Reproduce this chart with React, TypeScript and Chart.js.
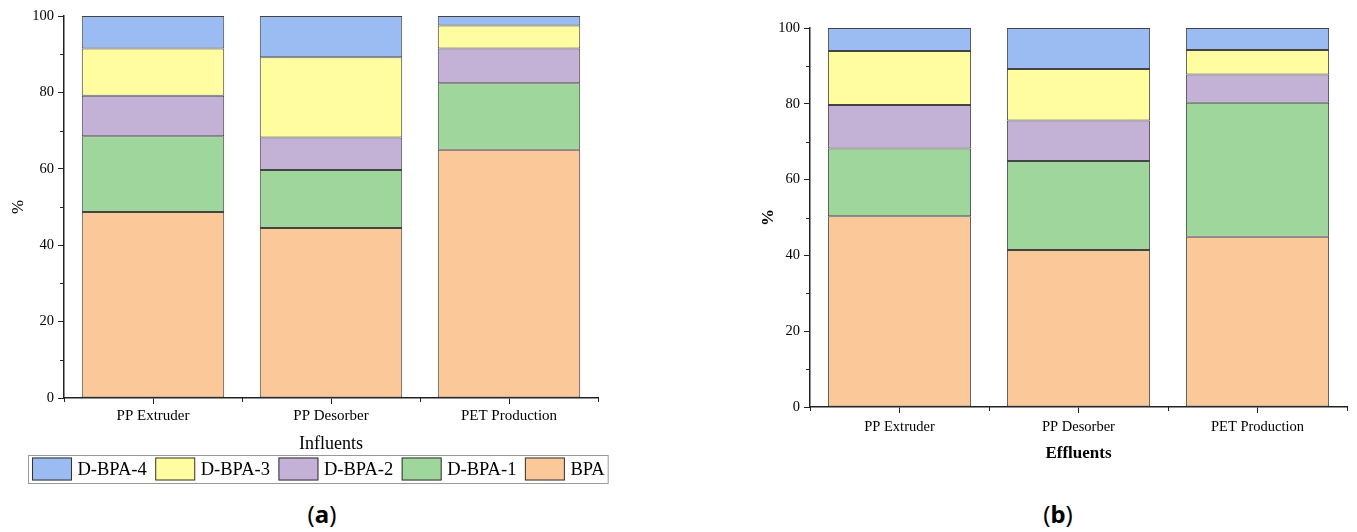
import React, { useEffect, useRef } from 'react';
import { Chart, registerables } from 'chart.js';
Chart.register(...registerables);

const categories = ['PP Extruder', 'PP Desorber', 'PET Production'];
const seriesNames = ['BPA', 'D-BPA-1', 'D-BPA-2', 'D-BPA-3', 'D-BPA-4'];
const seriesColors = ['#FBC899', '#9FD69C', '#C3B1D6', '#FFFDA0', '#9BBBF3'];

const influentBPA = [48.7, 44.5, 65.0];
const influentDBPA1 = [19.8, 15.2, 17.4];
const influentDBPA2 = [10.6, 8.5, 9.1];
const influentDBPA3 = [12.4, 21.0, 6.0];
const influentDBPA4 = [8.5, 10.8, 2.5];

const effluentBPA = [50.3, 41.4, 44.9];
const effluentDBPA1 = [17.9, 23.5, 35.4];
const effluentDBPA2 = [11.5, 10.7, 7.4];
const effluentDBPA3 = [14.2, 13.6, 6.5];
const effluentDBPA4 = [6.1, 10.8, 5.8];

const yTicks = [0, 20, 40, 60, 80, 100];
const yMinorTicks = [10, 30, 50, 70, 90];

const AXIS = '#222';
const SERIF = '"Liberation Serif", "Times New Roman", serif';

const minorTickPlugin = {
  id: 'minorTicks',
  afterDraw(chart: any) {
    const ctx = chart.ctx;
    const ys = chart.scales.y;
    const xs = chart.scales.x;
    ctx.save();
    ctx.strokeStyle = AXIS;
    ctx.lineWidth = 1;
    ctx.beginPath();
    for (const v of yMinorTicks) {
      const py = Math.round(ys.getPixelForValue(v)) + 0.5;
      ctx.moveTo(ys.right - 4, py);
      ctx.lineTo(ys.right, py);
    }
    for (let i = 0; i <= categories.length; i++) {
      const px = Math.round(xs.getPixelForValue(i - 0.5)) + 0.5;
      ctx.moveTo(px, xs.top);
      ctx.lineTo(px, xs.top + 4);
    }
    ctx.stroke();
    ctx.restore();
  },
};

const boxLegendPlugin = {
  id: 'boxLegend',
  afterDraw(chart: any, _args: any, opts: any) {
    if (!opts || !opts.show) return;
    const ctx = chart.ctx;
    const ds = chart.data.datasets.slice().reverse();
    ctx.save();
    ctx.font = '18.5px ' + SERIF;
    ctx.textBaseline = 'middle';
    const top = opts.top;
    const h = 28;
    const left = opts.left;
    let x = left + 4;
    let textEnd = x;
    for (const d of ds) {
      ctx.fillStyle = d.backgroundColor;
      ctx.fillRect(x, top + 2.5, 40, 23);
      ctx.strokeStyle = '#333';
      ctx.lineWidth = 1;
      ctx.strokeRect(x + 0.5, top + 3, 39, 22);
      ctx.fillStyle = '#000';
      const tx = x + 45.5;
      ctx.fillText(d.label, tx, top + h / 2 + 1);
      textEnd = tx + ctx.measureText(d.label).width;
      x = textEnd + 8.5;
    }
    const right = textEnd + 3;
    ctx.strokeStyle = '#999';
    ctx.lineWidth = 1;
    ctx.strokeRect(left + 0.5, top + 0.5, right - left, h);
    ctx.restore();
  },
};

function buildConfig(
  series: number[][],
  xTitle: string,
  bold: boolean,
  yWidth: number,
  xHeight: number,
  padding: any,
  legend: any,
  tickFont: number,
  catFont: number,
  catPad: number,
  titlePad: any,
  yTitlePad: any,
): any {
  return {
    type: 'bar',
    data: {
      labels: categories,
      datasets: seriesNames.map((name, i) => ({
        label: name,
        data: series[i],
        backgroundColor: seriesColors[i],
        borderColor: '#444',
        borderWidth: 1,
        borderSkipped: false,
        barPercentage: 0.8,
        categoryPercentage: 1,
      })),
    },
    options: {
      animation: false,
      responsive: false,
      maintainAspectRatio: false,
      layout: { padding },
      plugins: {
        legend: { display: false },
        tooltip: { enabled: false },
        boxLegend: legend,
      },
      scales: {
        x: {
          stacked: true,
          afterFit: (s: any) => { s.height = xHeight; },
          grid: {
            display: true,
            offset: false,
            drawOnChartArea: false,
            drawTicks: true,
            tickLength: 6,
            color: AXIS,
            lineWidth: 1,
          },
          border: { display: true, color: AXIS, width: 1.5 },
          ticks: {
            color: '#000',
            padding: catPad,
            font: { family: SERIF, size: catFont },
            maxRotation: 0,
          },
          title: {
            display: true,
            text: xTitle,
            color: '#000',
            padding: titlePad,
            font: { family: SERIF, size: bold ? 17 : 18, weight: bold ? 'bold' : 'normal' },
          },
        },
        y: {
          stacked: true,
          min: 0,
          max: 100,
          afterFit: (s: any) => { s.width = yWidth; },
          afterBuildTicks: (s: any) => { s.ticks = yTicks.map((v) => ({ value: v })); },
          grid: {
            display: true,
            drawOnChartArea: false,
            drawTicks: true,
            tickLength: 6,
            color: AXIS,
            lineWidth: 1,
          },
          border: { display: true, color: AXIS, width: 1.5 },
          ticks: {
            color: '#000',
            padding: 4,
            font: { family: SERIF, size: tickFont },
          },
          title: {
            display: true,
            text: '%',
            color: '#000',
            padding: yTitlePad,
            font: { family: SERIF, size: 17, weight: bold ? 'bold' : 'normal' },
          },
        },
      },
    },
    plugins: [minorTickPlugin, boxLegendPlugin],
  };
}

export default function App() {
  const leftRef = useRef<HTMLCanvasElement>(null);
  const rightRef = useRef<HTMLCanvasElement>(null);

  useEffect(() => {
    const influents = [influentBPA, influentDBPA1, influentDBPA2, influentDBPA3, influentDBPA4];
    const effluents = [effluentBPA, effluentDBPA1, effluentDBPA2, effluentDBPA3, effluentDBPA4];
    const c1 = new Chart(
      leftRef.current!,
      buildConfig(
        influents, 'Influents', false, 64, 56,
        { top: 16, right: 22, bottom: 36, left: 0 },
        { show: true, left: 28, top: 455 },
        14.5, 15, 3,
        { top: 2, bottom: -1 },
        { top: 8, bottom: 0 },
      ),
    );
    const c2 = new Chart(
      rightRef.current!,
      buildConfig(
        effluents, 'Effluents', true, 70, 56,
        { top: 28, right: 10, bottom: 7, left: 0 },
        { show: false },
        14.5, 14.5, 5,
        { top: 2, bottom: -1 },
        { top: 18, bottom: 0 },
      ),
    );
    return () => {
      c1.destroy();
      c2.destroy();
    };
  }, []);

  const capStyle: React.CSSProperties = {
    position: 'absolute',
    top: 498,
    fontFamily: '"Noto Sans", "DejaVu Sans", sans-serif',
    fontSize: 24,
    color: '#000',
    transform: 'translateX(-50%)',
    lineHeight: '32px',
    whiteSpace: 'nowrap',
  };

  return (
    <div style={{ position: 'absolute', left: 0, top: 0, width: 1357, height: 532, background: '#fff', overflow: 'hidden' }}>
      <canvas ref={leftRef} width={620} height={490} style={{ position: 'absolute', left: 0, top: 0, width: 620, height: 490 }} />
      <canvas ref={rightRef} width={617} height={470} style={{ position: 'absolute', left: 740, top: 0, width: 617, height: 470 }} />
      <div style={{ ...capStyle, left: 322 }}>(<b>a</b>)</div>
      <div style={{ ...capStyle, left: 1058 }}>(<b>b</b>)</div>
    </div>
  );
}
